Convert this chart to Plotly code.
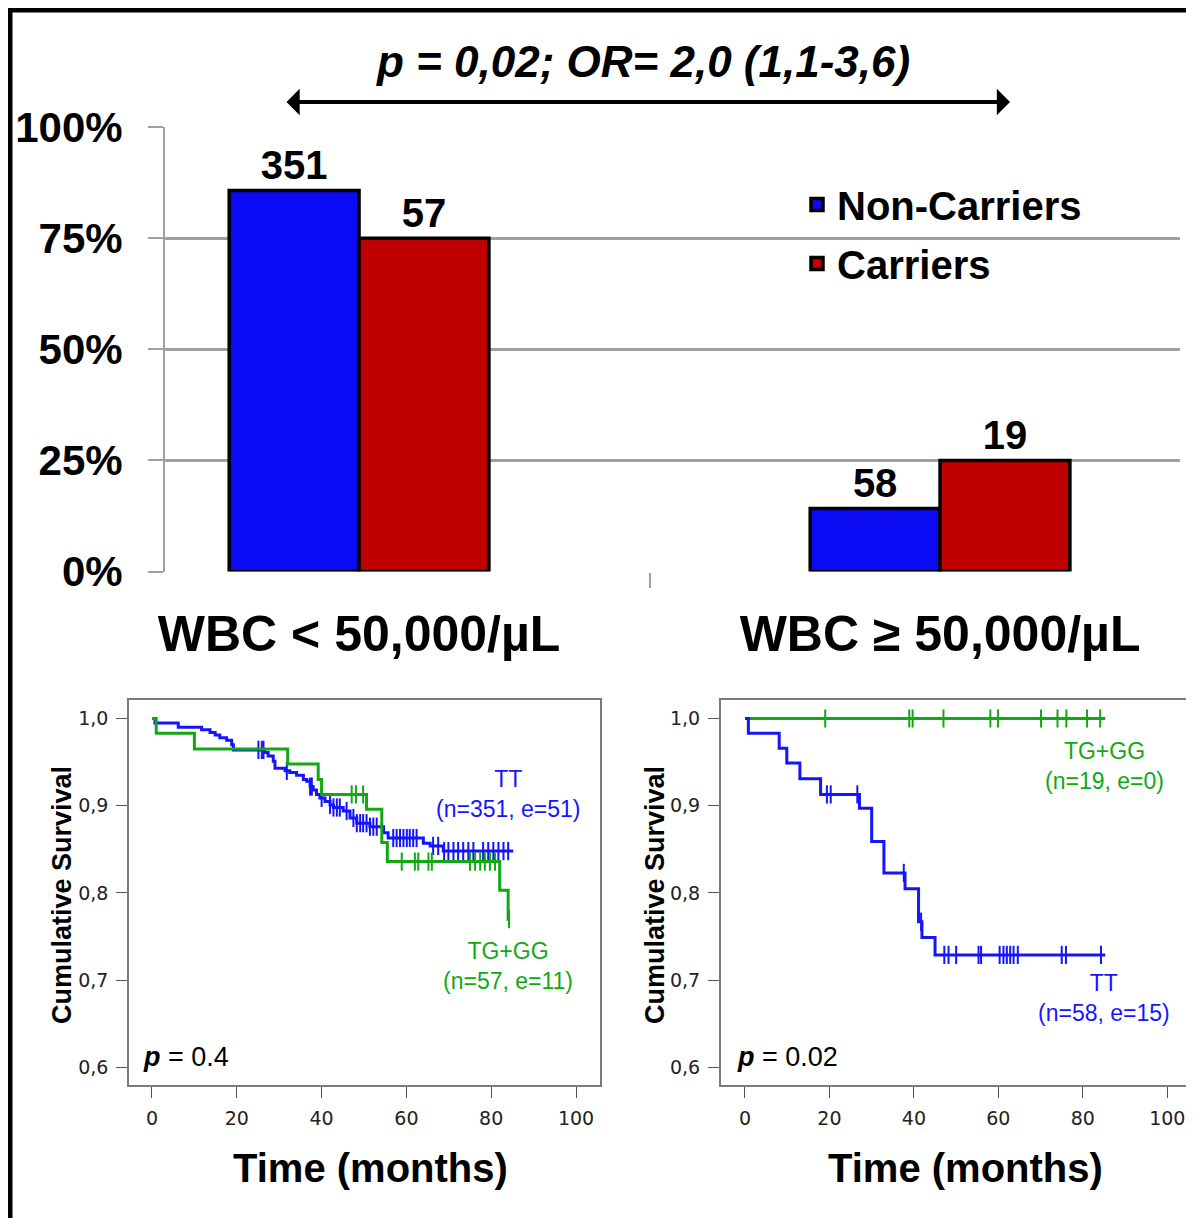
import numpy as np
import plotly.graph_objects as go

# ---------------- data ----------------
categories = ["WBC < 50,000/µL", "WBC ≥ 50,000/µL"]
noncarrier_pct = [85.8, 14.2]
carrier_pct = [75.0, 25.0]
noncarrier_n = [351, 58]
carrier_n = [57, 19]
pct_ticks = [0, 25, 50, 75, 100]
pct_ticktext = ["0%", "25%", "50%", "75%", "100%"]

# KM panel 1 (WBC < 50,000)
p1_tt_t = [0, 0.7, 6.2, 11.7, 13.7, 14.9, 16.0, 17.6, 18.8, 19.2, 26.6, 27.4, 28.6, 29.0,
           31.4, 32.5, 34.1, 35.7, 36.5, 37.3, 38.0, 38.8, 39.6, 40.8, 42.0, 42.8, 45.1,
           46.7, 48.3, 51.4, 54.6, 55.7, 64.0, 65.6, 68.7]
p1_tt_s = [1.0, 0.995, 0.990, 0.987, 0.984, 0.981, 0.978, 0.975, 0.970, 0.964, 0.961,
           0.957, 0.951, 0.943, 0.940, 0.938, 0.935, 0.930, 0.928, 0.922, 0.918, 0.913,
           0.909, 0.905, 0.901, 0.898, 0.894, 0.886, 0.880, 0.876, 0.869, 0.863, 0.857,
           0.854, 0.848]
p1_tt_end = 85.2
p1_tt_cens = [25.1, 25.9, 26.3, 31.8, 37.3, 37.7, 40.0, 42.0, 42.8, 43.6, 44.3, 45.9, 47.5,
              48.3, 49.1, 49.8, 50.6, 51.4, 52.2, 53.0, 56.9, 57.7, 58.5, 59.3, 60.1, 60.8,
              61.6, 62.4, 66.3, 67.5, 68.9, 69.9, 71.1, 72.2, 73.4, 74.6, 75.8, 78.1, 79.3,
              80.5, 81.7, 82.9, 84.0]
p1_tg_t = [0, 1.0, 10.0, 32.0, 39.2, 40.0, 50.6, 54.2, 55.5, 82.0, 84.0]
p1_tg_s = [1.0, 0.983, 0.965, 0.948, 0.930, 0.913, 0.896, 0.858, 0.836, 0.803, 0.770]
p1_tg_end = 84.2
p1_tg_cens = [47.1, 48.1, 49.8, 58.9, 62.0, 62.8, 65.2, 66.0, 75.0, 76.2, 77.4, 78.5,
              79.7, 80.9, 84.2]

# KM panel 2 (WBC >= 50,000)
p2_tt_t = [0, 0.8, 8.1, 9.9, 13.0, 17.9, 27.1, 30.0, 32.9, 37.9, 41.1, 41.9, 45.0]
p2_tt_s = [1.0, 0.983, 0.966, 0.949, 0.931, 0.913, 0.897, 0.859, 0.823, 0.805, 0.767,
           0.749, 0.729]
p2_tt_end = 85.3
p2_tt_cens = [19.4, 20.3, 26.6, 37.6, 41.7, 47.2, 48.2, 50.0, 55.3, 55.9, 60.3, 61.2,
              62.0, 62.8, 63.6, 64.6, 75.0, 76.0, 84.3]
p2_tg_t = [0]
p2_tg_s = [1.0]
p2_tg_end = 85.3
p2_tg_cens = [19.0, 38.9, 39.7, 47.0, 58.1, 59.9, 70.1, 74.0, 76.1, 81.0, 84.1]

km_y_ticks = [0.6, 0.7, 0.8, 0.9, 1.0]
km_y_ticktext = ["0,6", "0,7", "0,8", "0,9", "1,0"]
km_x_ticks = [0, 20, 40, 60, 80, 100]

# ---------------- styles ----------------
W, H = 1194, 1218
OFF = 8  # page body margin compensation
BLUE = "#0A0AF5"
RED = "#C00000"
KM_BLUE = "#1414FF"
KM_GREEN = "#12A812"
GRID = "#A0A0A0"
BIG = "Liberation Sans"


def px_x(p):
    return (p - OFF) / W


def px_y(p):
    return (H - (p - OFF)) / H


def step_at(times, surv, t):
    i = np.searchsorted(np.asarray(times), t, side="right") - 1
    return np.asarray(surv)[i]


fig = go.Figure()

# ---------------- bar chart ----------------
fig.add_trace(go.Bar(
    x=categories, y=noncarrier_pct, name="Non-Carriers",
    marker=dict(color=BLUE, line=dict(color="black", width=3.5)),
    text=noncarrier_n, textposition="outside", cliponaxis=False,
    textfont=dict(family=BIG, size=40, color="black", weight="bold"),
    legendgroup="a", xaxis="x", yaxis="y", hoverinfo="skip",
))
fig.add_trace(go.Bar(
    x=categories, y=carrier_pct, name="Carriers",
    marker=dict(color=RED, line=dict(color="black", width=3.5)),
    text=carrier_n, textposition="outside", cliponaxis=False,
    textfont=dict(family=BIG, size=40, color="black", weight="bold"),
    legendgroup="b", xaxis="x", yaxis="y", hoverinfo="skip",
))


# ---------------- KM curves ----------------
def add_km(times, surv, end, cens, color, xa, ya):
    fig.add_trace(go.Scatter(
        x=list(times) + [end], y=list(surv) + [surv[-1]], mode="lines",
        line=dict(color=color, width=3, shape="hv"), showlegend=False,
        xaxis=xa, yaxis=ya, hoverinfo="skip",
    ))
    cy = [step_at(times, surv, t) for t in cens]
    fig.add_trace(go.Scatter(
        x=cens, y=cy, mode="markers",
        marker=dict(symbol="line-ns", size=13, line=dict(color=color, width=2)),
        showlegend=False, xaxis=xa, yaxis=ya, hoverinfo="skip",
    ))


add_km(p1_tt_t, p1_tt_s, p1_tt_end, p1_tt_cens, KM_BLUE, "x2", "y2")
add_km(p1_tg_t, p1_tg_s, p1_tg_end, p1_tg_cens, KM_GREEN, "x2", "y2")
add_km(p2_tg_t, p2_tg_s, p2_tg_end, p2_tg_cens, KM_GREEN, "x3", "y3")
add_km(p2_tt_t, p2_tt_s, p2_tt_end, p2_tt_cens, KM_BLUE, "x3", "y3")

# ---------------- axes ----------------
km_y_range = [0.5799, 1.0218]
km_common_x = dict(
    tickvals=km_x_ticks, showgrid=False, zeroline=False, showline=True, mirror=True,
    linecolor="#7a7a7a", linewidth=1.5, ticks="outside", ticklen=11, tickcolor="#555",
    tickfont=dict(family="DejaVu Sans", size=19, color="#222"), ticklabelstandoff=4,
    automargin=False,
)
km_common_y = dict(
    range=km_y_range, tickvals=km_y_ticks, ticktext=km_y_ticktext, showgrid=False,
    zeroline=False, showline=True, mirror=True, linecolor="#7a7a7a", linewidth=1.5,
    ticks="outside", ticklen=11, tickcolor="#555",
    tickfont=dict(family="DejaVu Sans", size=19, color="#222"), ticklabelstandoff=4,
    automargin=False,
)

fig.update_layout(
    width=W, height=H, margin=dict(l=0, r=0, t=0, b=0, pad=0, autoexpand=False),
    paper_bgcolor="white", plot_bgcolor="white",
    barmode="group", bargap=0.553, bargroupgap=0,
    xaxis=dict(
        domain=[px_x(165), px_x(1180)], range=[-0.334, 1.413], tickson="boundaries",
        ticks="outside", ticklen=15, tickwidth=2, tickcolor=GRID, showgrid=False,
        showline=False, zeroline=False, automargin=False,
        tickfont=dict(family=BIG, size=50, color="black", weight="bold"),
        ticklabelstandoff=28,
    ),
    yaxis=dict(
        domain=[px_y(571.5), px_y(127.3)], range=[0, 100], tickvals=pct_ticks,
        ticktext=pct_ticktext, showgrid=True, gridcolor=GRID, gridwidth=2.5,
        zeroline=False, showline=True, linecolor=GRID, linewidth=2, automargin=False,
        ticks="outside", ticklen=15, tickwidth=2, tickcolor=GRID,
        tickfont=dict(family=BIG, size=42, color="black", weight="bold"),
        ticklabelstandoff=17,
    ),
    xaxis2=dict(domain=[px_x(129), px_x(600)], range=[-5.42, 105.66], anchor="y2",
                **km_common_x),
    yaxis2=dict(domain=[px_y(1085), px_y(699.5)], anchor="x2", **km_common_y),
    xaxis3=dict(domain=[px_x(720.7), px_x(1190.7)], range=[-5.75, 105.54], anchor="y3",
                **km_common_x),
    yaxis3=dict(domain=[px_y(1085), px_y(699.5)], anchor="x3", **km_common_y),
    legend=dict(
        x=px_x(797), y=px_y(172), xanchor="left", yanchor="top",
        font=dict(family=BIG, size=40, color="black", weight="bold"),
        bgcolor="rgba(0,0,0,0)", traceorder="grouped", tracegroupgap=4,
        itemwidth=30,
    ),
    showlegend=True,
)

# ---------------- annotations ----------------
ann = []


def txt(x, y, text, size, color="black", xanchor="center", angle=0, family=BIG):
    ann.append(dict(
        x=px_x(x), y=px_y(y), xref="paper", yref="paper", showarrow=False,
        xanchor=xanchor, yanchor="middle", text=text, textangle=angle, align="center",
        font=dict(family=family, size=size, color=color),
    ))


txt(643, 62, "<b><i>p = 0,02; OR= 2,0 (1,1-3,6)</i></b>", 44)
ann.append(dict(
    x=px_x(1010), y=px_y(102), xref="paper", yref="paper", text="",
    showarrow=True, ax=-725, ay=0, axref="pixel", ayref="pixel",
    arrowside="end+start", arrowhead=1, arrowsize=1.1, arrowwidth=4,
    arrowcolor="black", standoff=0, startstandoff=0,
))
for xc in [62, 655]:
    txt(xc, 895, "<b>Cumulative Survival</b>", 27, angle=-90)
for xc in [370, 965]:
    txt(xc, 1168, "<b>Time (months)</b>", 40)
txt(141, 1057, "<b><i>p</i></b> = 0.4", 27, xanchor="left")
txt(735, 1057, "<b><i>p</i></b> = 0.02", 27, xanchor="left")
km_labels = [
    (508, 794, "TT<br>(n=351, e=51)", KM_BLUE),
    (508, 966, "TG+GG<br>(n=57, e=11)", KM_GREEN),
    (1104, 766, "TG+GG<br>(n=19, e=0)", KM_GREEN),
    (1104, 998, "TT<br>(n=58, e=15)", KM_BLUE),
]
for xc, yc, t, col in km_labels:
    txt(xc, yc, t, 23, color=col)
fig.update_layout(annotations=ann)

# outer black frame
fig.add_shape(type="rect", xref="paper", yref="paper",
              x0=px_x(9), y0=-0.05, x1=1.05, y1=px_y(9),
              line=dict(color="black", width=7), fillcolor="rgba(0,0,0,0)", layer="above")

fig.write_html("out.html")
